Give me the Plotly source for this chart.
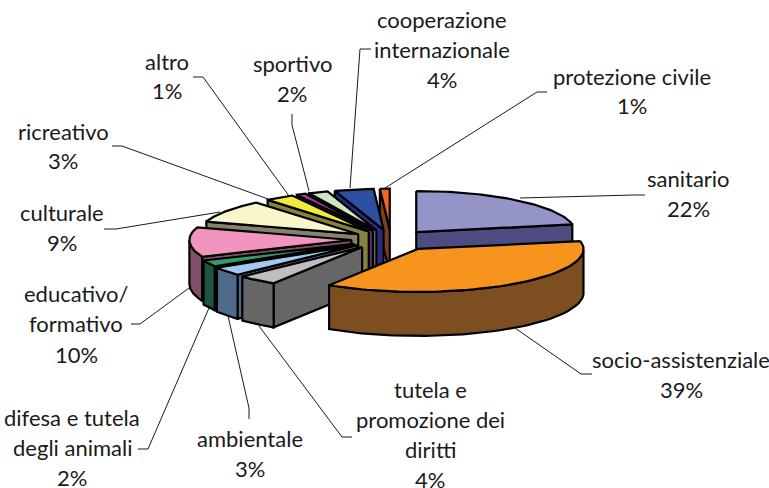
import numpy as np
import plotly.graph_objects as go

# data, clockwise from 12 o'clock
categories = ["sanitario", "socio-assistenziale", "tutela e promozione dei diritti", "ambientale",
              "difesa e tutela degli animali", "educativo/ formativo", "culturale", "ricreativo",
              "altro", "sportivo", "cooperazione internazionale", "protezione civile"]
values = [22, 39, 4, 3, 2, 10, 9, 3, 1, 2, 4, 1]

top_colors = ["#9494C8", "#F7941D", "#BEBEBE", "#A3C9EE", "#2F9E6A", "#F295BE",
              "#FAF6CB", "#F0EA3C", "#A23F9E", "#CDE6C4", "#2E50A0", "#F26522"]
side_colors = ["#4C4C80", "#7D4E20", "#666666", "#506A8C", "#1F5540", "#80506A",
               "#82826E", "#84843C", "#5A2A6E", "#688068", "#2A2A80", "#7E3F1E"]

# label lines, centre x, first line y and line step in page pixels
label_lines = [["sanitario", "22%"], ["socio-assistenziale", "39%"],
               ["tutela e", "promozione dei", "diritti", "4%"], ["ambientale", "3%"],
               ["difesa e tutela", "degli animali", "2%"], ["educativo/", "formativo", "10%"],
               ["culturale", "9%"], ["ricreativo", "3%"], ["altro", "1%"], ["sportivo", "2%"],
               ["cooperazione", "internazionale", "4%"], ["protezione civile", "1%"]]
label_x = [688, 681, 430, 250, 72, 76, 62, 63, 167, 292, 442, 632]
label_y = [178, 359, 389, 438, 417, 293, 212, 131, 61, 63, 19, 76]
label_step = [30, 30, 30, 30.5, 30, 30.5, 30, 29.5, 29, 30, 30, 29]

leader_x = [[645, 633, 520], [592, 581, 515], [352, 342, 259], [249, 249, 228],
            [138, 148, 209], [131, 140, 189], [104, 116, 220], [112, 122, 268],
            [193, 203, 289], [292, 292, 309], [371, 360, 350], [547, 537, 385]]
leader_y = [[195, 195, 198], [374, 374, 328], [437, 437, 326], [419, 408, 316],
            [449, 449, 308], [324, 324, 288], [229, 229, 212], [146, 146, 199],
            [77, 77, 196], [114, 125, 191], [49, 49, 188], [92, 92, 188]]

# pie geometry in page pixels
CX, CY = 391, 240
RX = 162
RY_BACK, RY_FRONT = 41, 43
DEPTH = 44
EXPLODE = 0.24
FRONT_SQUEEZE = 0.77
FRONT_GROW = 0.025
FRONT_RIGHT_SHIFT = 8
FONT = "Lato"
FONT_SIZE = 22


def warp(theta):
    # front half of the ellipse is foreshortened a bit in the original 3D view
    u, v = np.sin(theta), np.cos(theta)
    return np.where(v < 0, np.arctan2(u * FRONT_SQUEEZE, v), theta)


def poly(fig, xs, ys, color):
    fig.add_trace(go.Scatter(x=np.append(xs, xs[0]), y=np.append(ys, ys[0]), mode="lines", fill="toself",
                             fillcolor=color, line=dict(color="black", width=2.2), hoverinfo="skip"))


fig = go.Figure()

edges = np.cumsum([0] + values) / sum(values) * 2 * np.pi
mids = (edges[:-1] + edges[1:]) / 2

# paint from the back of the pie to the front
for i in sorted(range(len(values)), key=lambda k: -np.cos(mids[k])):
    t1, t2 = edges[i], edges[i + 1]
    mid_u, mid_v = np.sin(mids[i]), np.cos(mids[i])
    apex_x = CX + 165 * EXPLODE * mid_u
    if mid_u > 0 and mid_v < 0:
        apex_x += FRONT_RIGHT_SHIFT * -mid_v
    apex_y = CY - RY_FRONT * EXPLODE * mid_v
    rx = RX * (1 - FRONT_GROW * mid_v)

    arc = np.linspace(t1, t2, 60)
    w = warp(arc)
    ax = apex_x + rx * np.sin(w)
    ay = apex_y - np.where(np.cos(w) > 0, RY_BACK, RY_FRONT) * np.cos(w)

    # radial walls that face the viewer
    if np.sin(t1) < 0:
        poly(fig, np.array([apex_x, ax[0], ax[0], apex_x]),
             np.array([apex_y, ay[0], ay[0] + DEPTH, apex_y + DEPTH]), side_colors[i])
    if np.sin(t2) > 0:
        poly(fig, np.array([apex_x, ax[-1], ax[-1], apex_x]),
             np.array([apex_y, ay[-1], ay[-1] + DEPTH, apex_y + DEPTH]), side_colors[i])

    # outer wall, only the part on the front half
    front = np.cos(w) <= 0
    if front.sum() > 1:
        fx, fy = ax[front], ay[front]
        poly(fig, np.concatenate([fx, fx[::-1]]), np.concatenate([fy, fy[::-1] + DEPTH]), side_colors[i])

    poly(fig, np.append(ax, apex_x), np.append(ay, apex_y), top_colors[i])

for lx, ly in zip(leader_x, leader_y):
    fig.add_trace(go.Scatter(x=lx, y=ly, mode="lines", line=dict(color="#1a1a1a", width=1), hoverinfo="skip"))

annotations = []
for lines, x, y, step in zip(label_lines, label_x, label_y, label_step):
    for n, line in enumerate(lines):
        annotations.append(dict(x=x, y=y + n * step, text=line, xref="x", yref="y", showarrow=False,
                                xanchor="center", yanchor="middle",
                                font=dict(family=FONT, size=FONT_SIZE, color="#1a1a1a")))

fig.update_layout(
    width=769, height=488,
    margin=dict(l=0, r=0, t=0, b=0),
    paper_bgcolor="white", plot_bgcolor="white",
    showlegend=False,
    annotations=annotations,
    xaxis=dict(range=[0, 769], visible=False, fixedrange=True),
    yaxis=dict(range=[488, 0], visible=False, fixedrange=True),
)

# the page's default body margin would push the chart 8px off
fig.write_html("out.html", config=dict(displayModeBar=False),
               post_script="document.body.style.margin='0';document.body.style.overflow='hidden';")
